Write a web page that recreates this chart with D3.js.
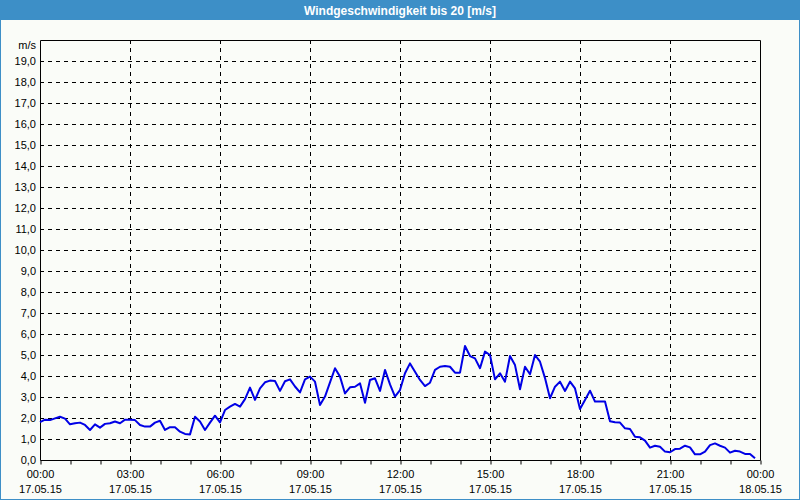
<!DOCTYPE html>
<html>
<head>
<meta charset="utf-8">
<script src="https://cdn.jsdelivr.net/npm/d3@7"></script>
<style>
  html, body { margin: 0; padding: 0; background: #fafcf8; }
  svg { display: block; }
</style>
</head>
<body>
<script>
// wind speed, one reading every 10 minutes from 17.05.15 00:00
var title = 'Windgeschwindigkeit bis 20 [m/s]';
var unit = 'm/s';
var startTime = new Date(2015, 4, 17, 0, 0);
var endTime = new Date(2015, 4, 18, 0, 0);
var stepMinutes = 10;

var speeds = [
  1.80, 1.92, 1.90, 1.98, 2.06, 1.97, 1.70, 1.75, 1.78, 1.67,
  1.43, 1.70, 1.54, 1.72, 1.75, 1.83, 1.75, 1.92, 1.92, 1.90,
  1.67, 1.59, 1.59, 1.78, 1.87, 1.43, 1.56, 1.56, 1.35, 1.24,
  1.22, 2.06, 1.83, 1.43, 1.78, 2.11, 1.79, 2.38, 2.54, 2.67,
  2.54, 2.90, 3.45, 2.86, 3.41, 3.70, 3.78, 3.76, 3.29, 3.75,
  3.84, 3.50, 3.22, 3.84, 3.97, 3.73, 2.62, 3.02, 3.70, 4.37,
  3.97, 3.17, 3.46, 3.49, 3.65, 2.73, 3.81, 3.89, 3.29, 4.29,
  3.60, 3.02, 3.33, 4.13, 4.60, 4.20, 3.81, 3.52, 3.68, 4.29,
  4.44, 4.48, 4.44, 4.16, 4.16, 5.43, 4.95, 4.84, 4.37, 5.16,
  5.00, 3.84, 4.13, 3.73, 4.95, 4.52, 3.37, 4.44, 4.08, 5.00,
  4.68, 3.90, 2.94, 3.49, 3.73, 3.29, 3.73, 3.41, 2.43, 2.86,
  3.30, 2.78, 2.78, 2.78, 1.85, 1.80, 1.78, 1.51, 1.48, 1.11,
  1.08, 0.92, 0.59, 0.68, 0.63, 0.40, 0.37, 0.52, 0.54, 0.68,
  0.60, 0.27, 0.27, 0.40, 0.71, 0.79, 0.68, 0.59, 0.35, 0.44,
  0.40, 0.29, 0.29, 0.08
];

var yTicks = d3.range(0, 20, 1);

var W = 800, H = 500;
var margin = {top: 40, right: 40, bottom: 40, left: 40};
var blue = '#3d8fc7';

var svg = d3.select('body').append('svg')
  .attr('width', W)
  .attr('height', H)
  .style('font-family', '"Liberation Sans", Arial, sans-serif');

svg.append('rect').attr('width', W).attr('height', H).attr('fill', '#fafcf8');

// title bar + window frame
svg.append('rect').attr('x', 0).attr('y', 0).attr('width', W).attr('height', 20).attr('fill', blue);
svg.append('rect').attr('x', 0.5).attr('y', 0.5).attr('width', W - 1).attr('height', H - 1)
  .attr('fill', 'none').attr('stroke', blue).attr('stroke-width', 1);
svg.append('text')
  .attr('x', W / 2).attr('y', 14.5)
  .attr('text-anchor', 'middle')
  .attr('fill', '#fff')
  .style('font-size', '12px')
  .style('font-weight', 'bold')
  .text(title);

var x = d3.scaleTime().domain([startTime, endTime]).range([margin.left, W - margin.right]);
var y = d3.scaleLinear().domain([0, 20]).range([H - margin.bottom, margin.top]);

var data = speeds.map(function(v, i) {
  return {t: d3.timeMinute.offset(startTime, i * stepMinutes), v: v};
});

// grid
var g = svg.append('g');
g.selectAll('line.hgrid')
  .data(yTicks.filter(function(d) { return d > 0; }))
  .enter().append('line')
  .attr('class', 'hgrid')
  .attr('x1', margin.left).attr('x2', W - margin.right)
  .attr('y1', function(d) { return Math.round(y(d)) + 0.5; })
  .attr('y2', function(d) { return Math.round(y(d)) + 0.5; })
  .attr('stroke', '#000').attr('stroke-dasharray', '4,4');

var majorTicks = d3.timeHour.every(3).range(startTime, d3.timeMinute.offset(endTime, 1));
g.selectAll('line.vgrid')
  .data(majorTicks.slice(1, -1))
  .enter().append('line')
  .attr('class', 'vgrid')
  .attr('y1', margin.top).attr('y2', H - margin.bottom)
  .attr('x1', function(d) { return Math.round(x(d)) + 0.5; })
  .attr('x2', function(d) { return Math.round(x(d)) + 0.5; })
  .attr('stroke', '#000').attr('stroke-dasharray', '4,4');

// frame: top, left, right, bottom
svg.append('path')
  .attr('d', 'M' + (margin.left + 0.5) + ',' + (H - margin.bottom + 0.5) +
             'V' + (margin.top + 0.5) + 'H' + (W - margin.right + 0.5) +
             'V' + (H - margin.bottom + 0.5) + 'H' + (margin.left + 0.5))
  .attr('fill', 'none').attr('stroke', '#000');

// x axis: hourly ticks, labels every 3 hours
var xAxis = d3.axisBottom(x)
  .ticks(d3.timeHour.every(1))
  .tickSize(4)
  .tickFormat('');
svg.append('g')
  .attr('transform', 'translate(0.5,' + (H - margin.bottom + 0.5) + ')')
  .call(xAxis)
  .call(function(s) { s.select('.domain').remove(); s.selectAll('line').attr('stroke', '#000'); });

var xl = svg.append('g').selectAll('g').data(majorTicks).enter().append('g')
  .attr('transform', function(d) { return 'translate(' + (x(d) + 0.5) + ',0)'; });
xl.append('text')
  .attr('y', H - margin.bottom + 18)
  .attr('text-anchor', 'middle')
  .style('font-size', '11px')
  .text(d3.timeFormat('%H:%M'));
xl.append('text')
  .attr('y', H - margin.bottom + 33)
  .attr('text-anchor', 'middle')
  .style('font-size', '11px')
  .text(d3.timeFormat('%d.%m.%y'));

// y labels
var fmt = function(d) { return d3.format('.1f')(d).replace('.', ','); };
svg.append('g').selectAll('text').data(yTicks).enter().append('text')
  .attr('x', margin.left - 4)
  .attr('y', function(d) { return y(d) + 4; })
  .attr('text-anchor', 'end')
  .style('font-size', '11px')
  .text(fmt);
svg.append('text')
  .attr('x', margin.left - 4).attr('y', margin.top + 9)
  .attr('text-anchor', 'end')
  .style('font-size', '11px')
  .text(unit);

// the line
var line = d3.line()
  .x(function(d) { return x(d.t); })
  .y(function(d) { return y(d.v); });
svg.append('path')
  .datum(data)
  .attr('d', line)
  .attr('fill', 'none')
  .attr('stroke', '#0000e6')
  .attr('stroke-width', 2)
  .attr('stroke-linejoin', 'round');
</script>
</body>
</html>
